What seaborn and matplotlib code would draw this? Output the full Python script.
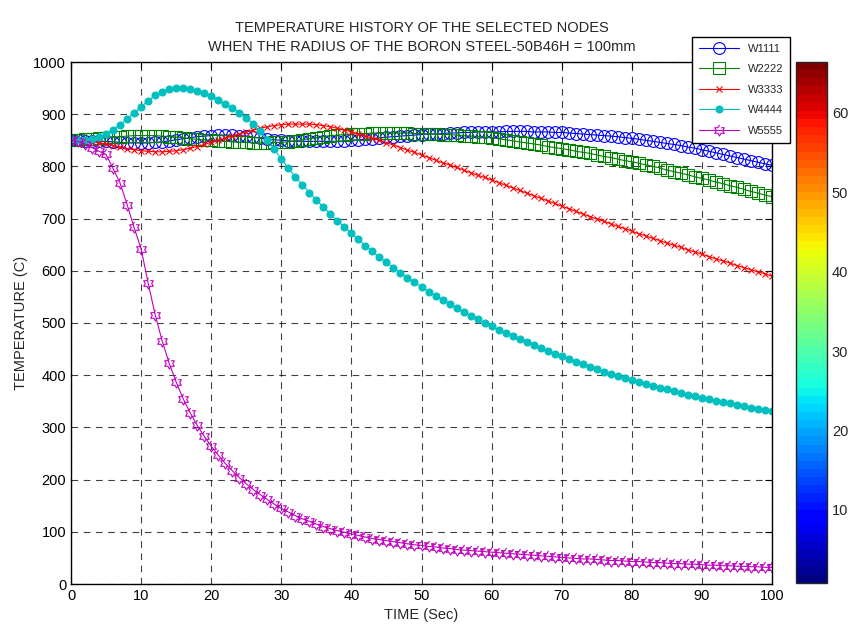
import numpy as np
import pandas as pd
import matplotlib
matplotlib.use("Agg")
import matplotlib.pyplot as plt
import seaborn as sns
from matplotlib.path import Path
from matplotlib.cm import ScalarMappable
from matplotlib.colors import Normalize

# Dados (temperatura em C a cada 1 s)
tempo = list(range(0, 101))

w1111 = [850, 850, 849, 849, 848, 848, 847, 846, 845, 845,
         845, 845, 846, 847, 849, 851, 853, 855, 857, 858,
         859, 860, 860, 860, 859, 858, 856, 854, 852, 851,
         850, 849, 848, 848, 848, 848, 848, 848, 848, 849,
         850, 851, 852, 853, 855, 856, 857, 858, 859, 860,
         861, 862, 862, 863, 864, 864, 865, 865, 866, 866,
         866, 866, 867, 867, 867, 867, 866, 866, 866, 865,
         865, 864, 863, 862, 861, 860, 859, 858, 857, 855,
         854, 852, 850, 848, 846, 844, 842, 840, 837, 835,
         832, 829, 826, 823, 820, 817, 814, 811, 808, 805, 802]

w2222 = [850, 851, 852, 853, 854, 855, 856, 857, 858, 859,
         859, 859, 859, 858, 857, 856, 855, 853, 852, 851,
         850, 849, 848, 847, 846, 846, 845, 845, 845, 846,
         846, 847, 849, 851, 853, 855, 857, 859, 860, 861,
         862, 863, 863, 864, 864, 864, 864, 864, 864, 863,
         863, 862, 862, 861, 861, 860, 859, 858, 857, 856,
         855, 853, 851, 849, 847, 845, 843, 841, 838, 836,
         834, 832, 829, 827, 825, 822, 819, 817, 814, 811,
         809, 806, 803, 800, 797, 793, 790, 787, 784, 780,
         777, 774, 770, 767, 763, 760, 756, 752, 749, 745, 742]

w3333 = [850, 849, 848, 847, 845, 843, 840, 837, 834, 832,
         830, 829, 828, 828, 829, 830, 832, 835, 838, 842,
         846, 850, 854, 858, 862, 866, 870, 873, 876, 878,
         880, 881, 881, 881, 881, 880, 878, 876, 873, 870,
         866, 862, 858, 854, 850, 845, 841, 836, 831, 827,
         822, 817, 812, 807, 803, 798, 793, 788, 783, 779,
         774, 769, 764, 759, 754, 749, 744, 739, 734, 729,
         724, 719, 714, 709, 704, 699, 695, 690, 685, 681,
         676, 671, 667, 662, 658, 653, 649, 645, 640, 636,
         632, 627, 623, 619, 615, 610, 606, 602, 598, 594, 590]

w4444 = [850, 850, 851, 853, 856, 862, 870, 880, 891, 903,
         914, 926, 936, 943, 948, 950, 950, 948, 945, 941,
         935, 928, 920, 912, 903, 893, 881, 867, 851, 833,
         814, 797, 780, 765, 750, 736, 722, 709, 696, 684,
         672, 660, 648, 637, 626, 616, 606, 596, 587, 578,
         569, 560, 552, 544, 536, 528, 521, 514, 507, 500,
         494, 487, 481, 475, 469, 463, 457, 452, 446, 441,
         436, 431, 426, 421, 416, 412, 407, 403, 399, 395,
         391, 387, 383, 380, 376, 373, 369, 366, 363, 360,
         357, 354, 351, 348, 346, 343, 341, 338, 336, 334, 332]

w5555 = [850, 848, 843, 836, 829, 823, 796, 768, 727, 683,
         642, 577, 516, 466, 423, 387, 355, 328, 304, 283,
         264, 247, 231, 217, 204, 192, 181, 171, 162, 153,
         145, 138, 131, 125, 120, 115, 110, 106, 102, 99,
         96, 93, 90, 87, 85, 83, 81, 79, 77, 75,
         74, 72, 71, 69, 68, 66, 65, 64, 63, 62,
         61, 60, 59, 58, 57, 56, 55, 54, 53, 52,
         51, 50, 49, 48, 48, 47, 46, 45, 45, 44,
         43, 43, 42, 41, 41, 40, 39, 39, 38, 38,
         37, 36, 36, 35, 35, 34, 34, 33, 33, 32, 32]

nomes = ['W1111', 'W2222', 'W3333', 'W4444', 'W5555']
series = [w1111, w2222, w3333, w4444, w5555]

# estilo tipo MATLAB
sns.set_style('white')
plt.rcParams['font.family'] = ['Liberation Sans', 'DejaVu Sans']

# marcador hexagrama (estrela de seis pontas)
ang = np.deg2rad(np.arange(12) * 30 + 90)
raio = np.where(np.arange(12) % 2 == 0, 1.0, 0.577)
hexa = Path(np.column_stack([raio * np.cos(ang), raio * np.sin(ang)]))

estilos = {
    'W1111': dict(color=(0, 0, 1), marker='o', markersize=8.5, markerfacecolor='none'),
    'W2222': dict(color=(0, 0.5, 0), marker='s', markersize=9, markerfacecolor='none'),
    'W3333': dict(color=(1, 0, 0), marker='x', markersize=4.5),
    'W4444': dict(color=(0, 0.75, 0.75), marker='o', markersize=5),
    'W5555': dict(color=(0.75, 0, 0.75), marker=hexa, markersize=8, markerfacecolor='none'),
}

fig = plt.figure(figsize=(8.48, 6.29), dpi=100)
ax = fig.add_axes([71 / 848, 45 / 629, 701 / 848, 522 / 629])

for nome, vals in zip(nomes, series):
    df = pd.DataFrame({'t': tempo, 'T': vals})
    est = estilos[nome]
    sns.lineplot(data=df, x='t', y='T', ax=ax, label=nome, color=est['color'],
                 marker=est['marker'], markersize=est['markersize'],
                 markerfacecolor=est.get('markerfacecolor', est['color']),
                 markeredgecolor=est['color'], markeredgewidth=0.8,
                 linewidth=0.8)

ax.set_xlim(0, 100)
ax.set_ylim(0, 1000)
ax.set_xticks(range(0, 101, 10))
ax.set_yticks(range(0, 1001, 100))
ax.tick_params(direction='in', top=True, right=True, length=5, labelsize=10.5,
               colors='black')
ax.grid(True, color='black', linestyle=(0, (6, 5)), linewidth=0.8, alpha=0.75)
for s in ax.spines.values():
    s.set_color('black')
    s.set_linewidth(1)

ax.set_xlabel('TIME (Sec)', fontsize=10.5, labelpad=4)
ax.set_ylabel('TEMPERATURE (C)', fontsize=10.5, labelpad=4)
ax.set_title('TEMPERATURE HISTORY OF THE SELECTED NODES\n'
             'WHEN THE RADIUS OF THE BORON STEEL-50B46H = 100mm',
             fontsize=10.5, linespacing=1.4, pad=8)

leg = ax.legend(loc='upper left', bbox_to_anchor=(692 / 848, 1 - 37 / 629),
                bbox_transform=fig.transFigure, fontsize=8, handlelength=3.6,
                labelspacing=0.95, borderpad=0.6, fancybox=False,
                framealpha=1, edgecolor='black', borderaxespad=0)
leg.get_frame().set_linewidth(1)

# barra de cores (jet, 64 níveis)
cax = fig.add_axes([796 / 848, 46 / 629, 31 / 848, 521 / 629])
sm = ScalarMappable(norm=Normalize(0.8, 66.4), cmap=plt.get_cmap('jet', 64))
cb = fig.colorbar(sm, cax=cax, ticks=range(10, 61, 10))
cb.outline.set_linewidth(1)
cax.tick_params(direction='in', left=True, right=True, length=4, labelsize=10.5)

fig.savefig('out.png', dpi=100, facecolor='white')
